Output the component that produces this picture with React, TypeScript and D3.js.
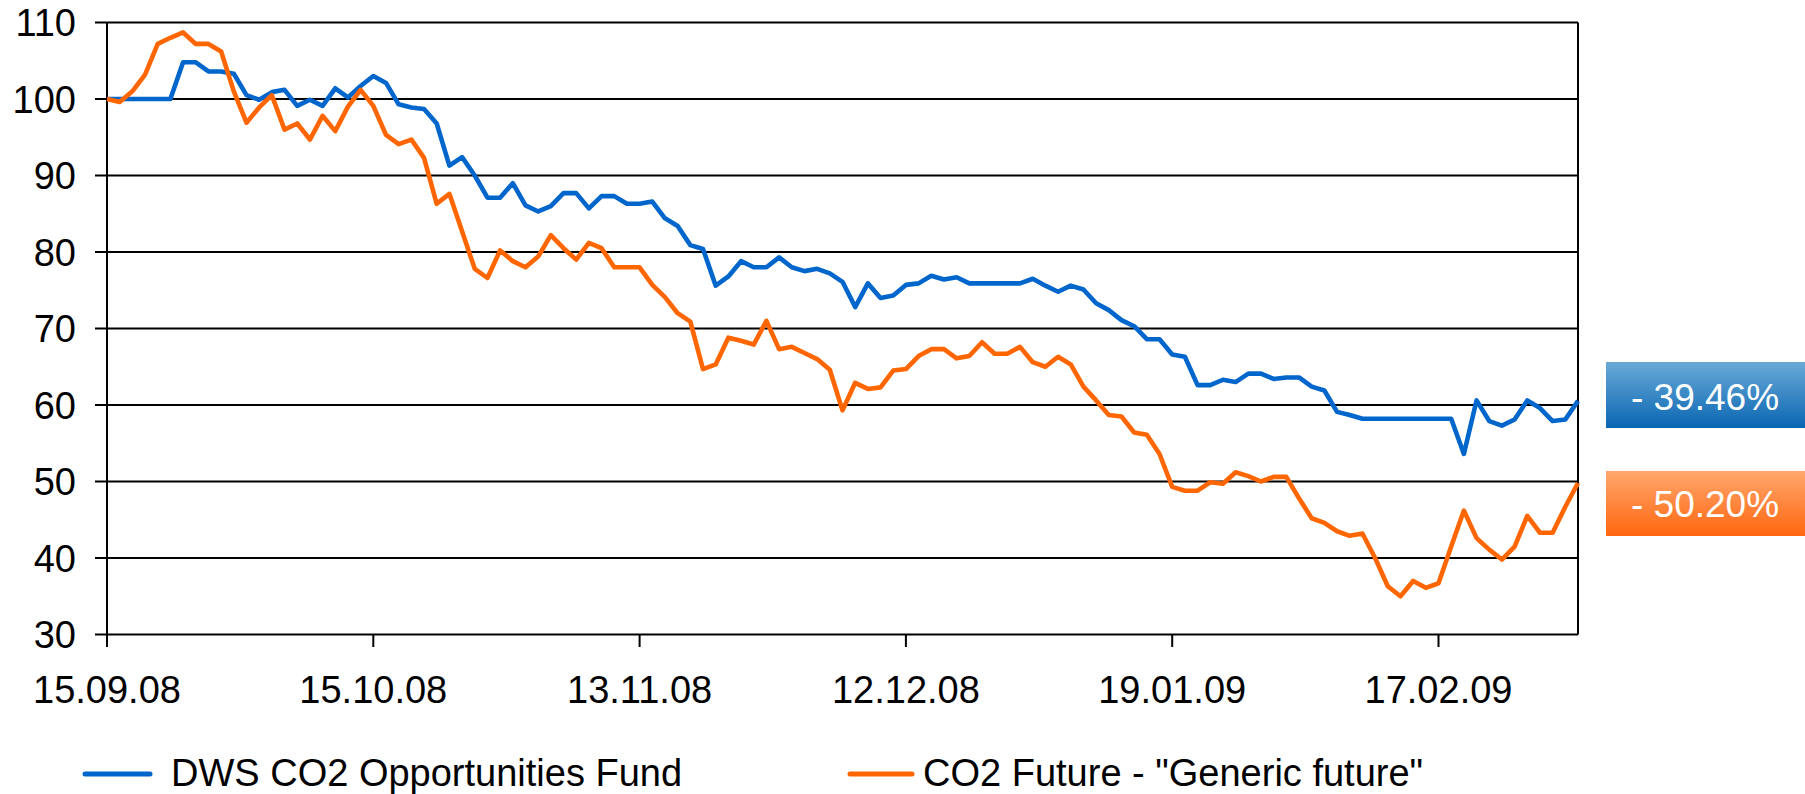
import React from "react";
import * as d3 from "d3";

const tickLabels = ["15.09.08", "15.10.08", "13.11.08", "12.12.08", "19.01.09", "17.02.09"];
const tickIndices = [0, 21, 42, 63, 84, 105];
const yTicks = [30, 40, 50, 60, 70, 80, 90, 100, 110];

const dwsFund = [
  100, 100, 100, 100, 100, 100, 104.8, 104.8, 103.6, 103.6,
  103.3, 100.5, 99.9, 100.9, 101.2, 99.1, 99.9, 99.1, 101.4, 100.2,
  101.7, 103.0, 102.1, 99.3, 98.9, 98.7, 96.8, 91.3, 92.4, 90.0,
  87.1, 87.1, 89.0, 86.1, 85.3, 86.0, 87.7, 87.7, 85.7, 87.3,
  87.3, 86.3, 86.3, 86.6, 84.4, 83.4, 80.9, 80.4, 75.6, 76.8,
  78.8, 78.0, 78.0, 79.3, 78.0, 77.5, 77.8, 77.2, 76.1, 72.8,
  75.9, 74.0, 74.3, 75.7, 75.9, 76.9, 76.4, 76.7, 75.9, 75.9,
  75.9, 75.9, 75.9, 76.5, 75.6, 74.8, 75.6, 75.1, 73.3, 72.4,
  71.1, 70.3, 68.6, 68.6, 66.6, 66.3, 62.6, 62.6, 63.3, 63.0,
  64.1, 64.1, 63.4, 63.6, 63.6, 62.4, 61.9, 59.1, 58.7, 58.2,
  58.2, 58.2, 58.2, 58.2, 58.2, 58.2, 58.2, 53.6, 60.6, 57.9,
  57.3, 58.1, 60.6, 59.6, 57.9, 58.1, 60.54,
];

const co2Future = [
  100, 99.6, 101.0, 103.2, 107.2, 108.0, 108.7, 107.2, 107.2, 106.2,
  101.0, 96.9, 98.9, 100.5, 96.0, 96.8, 94.7, 97.8, 95.8, 99.0,
  101.2, 99.1, 95.3, 94.1, 94.7, 92.3, 86.3, 87.6, 82.7, 77.8,
  76.6, 80.2, 78.8, 78.0, 79.4, 82.2, 80.5, 79.0, 81.2, 80.5,
  78.0, 78.0, 78.0, 75.7, 74.1, 72.0, 70.9, 64.7, 65.3, 68.8,
  68.4, 67.9, 71.0, 67.3, 67.6, 66.8, 66.0, 64.6, 59.3, 62.9,
  62.1, 62.3, 64.5, 64.7, 66.4, 67.3, 67.3, 66.1, 66.4, 68.2,
  66.7, 66.7, 67.6, 65.6, 65.0, 66.3, 65.3, 62.4, 60.6, 58.7,
  58.5, 56.4, 56.1, 53.6, 49.3, 48.8, 48.8, 49.9, 49.7, 51.2,
  50.7, 50.0, 50.6, 50.6, 47.8, 45.2, 44.6, 43.5, 42.9, 43.2,
  40.0, 36.3, 35.0, 37.0, 36.1, 36.7, 41.5, 46.2, 42.6, 41.1,
  39.8, 41.5, 45.5, 43.3, 43.3, 46.7, 49.8,
];

const seriesNames = ["DWS CO2 Opportunities Fund", 'CO2 Future - "Generic future"'];
const changeLabels = ["- 39.46%", "- 50.20%"];

const FONT = "'Liberation Sans', Arial, sans-serif";

export default function App() {
  const W = 1805;
  const H = 794;
  const left = 107;
  const right = 1578;
  const top = 22.5;
  const bottom = 634.5;

  const x = d3.scaleLinear().domain([0, dwsFund.length - 1]).range([left, right]);
  const y = d3.scaleLinear().domain([30, 110]).range([bottom, top]);

  const line = d3
    .line<number>()
    .x((_, i) => x(i))
    .y((d) => y(d));

  return (
    <svg
      width={W}
      height={H}
      style={{ position: "absolute", left: 0, top: 0, background: "#fff" }}
      fontFamily={FONT}
    >
      <defs>
        <linearGradient id="gBlue" x1="0" y1="0" x2="0" y2="1">
          <stop offset="0" stopColor="#6aaad7" />
          <stop offset="1" stopColor="#0a66b2" />
        </linearGradient>
        <linearGradient id="gOrange" x1="0" y1="0" x2="0" y2="1">
          <stop offset="0" stopColor="#ffa76d" />
          <stop offset="1" stopColor="#ff660f" />
        </linearGradient>
      </defs>

      {/* gridlines */}
      {yTicks.map((t) => (
        <g key={t}>
          <line x1={95} x2={right} y1={y(t)} y2={y(t)} stroke="#000" strokeWidth={2} />
          <text
            x={76}
            y={y(t)}
            dy="0.36em"
            textAnchor="end"
            fontSize={38}
            fill="#000"
          >
            {t}
          </text>
        </g>
      ))}

      {/* axes / border */}
      <line x1={left} x2={left} y1={top} y2={bottom} stroke="#000" strokeWidth={2} />
      <line x1={right} x2={right} y1={top} y2={bottom} stroke="#000" strokeWidth={2} />

      {/* x ticks */}
      {tickIndices.map((ti, k) => (
        <g key={ti}>
          <line x1={x(ti)} x2={x(ti)} y1={bottom} y2={647} stroke="#000" strokeWidth={2} />
          <text x={x(ti)} y={703} textAnchor="middle" fontSize={38} fill="#000">
            {tickLabels[k]}
          </text>
        </g>
      ))}

      {/* series */}
      <path d={line(dwsFund) || ""} fill="none" stroke="#0066cc" strokeWidth={4.6} strokeLinejoin="round" />
      <path d={line(co2Future) || ""} fill="none" stroke="#ff6600" strokeWidth={4.6} strokeLinejoin="round" />

      {/* change boxes */}
      <rect x={1606} y={362} width={199} height={66} fill="url(#gBlue)" />
      <text x={1705} y={410} textAnchor="middle" fontSize={37} fill="#fff">
        {changeLabels[0]}
      </text>
      <rect x={1606} y={471} width={199} height={65} fill="url(#gOrange)" />
      <text x={1705} y={517} textAnchor="middle" fontSize={37} fill="#fff">
        {changeLabels[1]}
      </text>

      {/* legend */}
      <line x1={85} x2={150} y1={774} y2={774} stroke="#0066cc" strokeWidth={5} strokeLinecap="round" />
      <text x={171} y={786} fontSize={38} fill="#000">
        {seriesNames[0]}
      </text>
      <line x1={850} x2={912} y1={774} y2={774} stroke="#ff6600" strokeWidth={5} strokeLinecap="round" />
      <text x={923} y={786} fontSize={38} fill="#000">
        {seriesNames[1]}
      </text>
    </svg>
  );
}
